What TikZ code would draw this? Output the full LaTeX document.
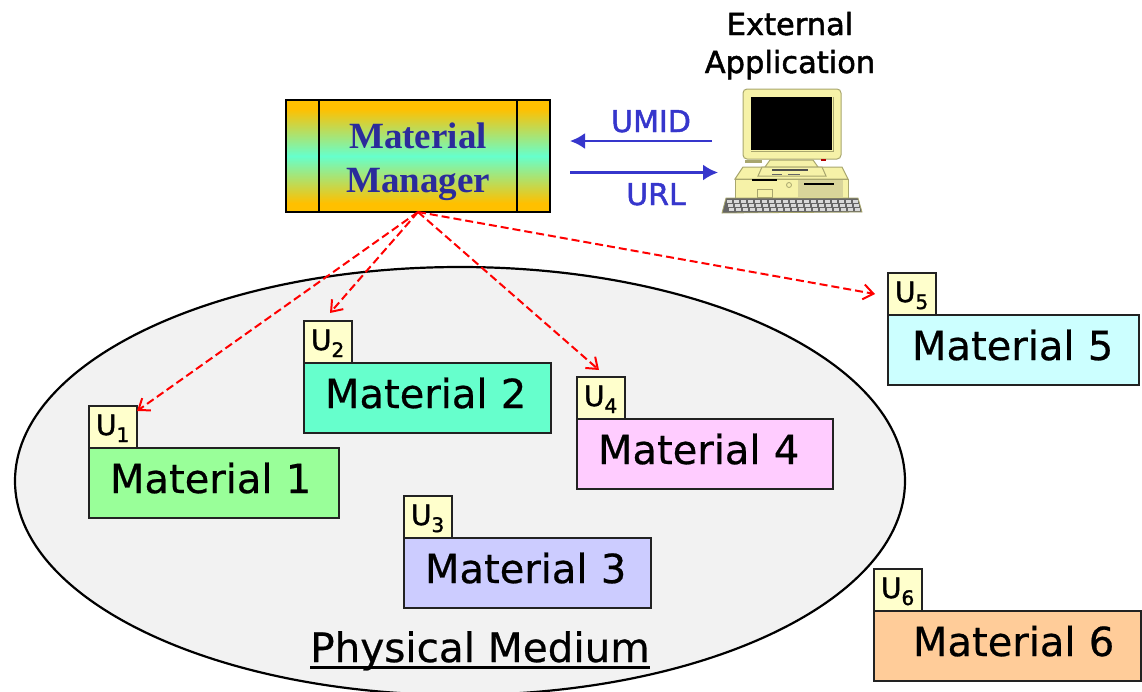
\documentclass[tikz,border=0pt]{standalone}
\usepackage{fontspec}
\setmainfont{DejaVu Sans}[FakeBold=0.6]
\newfontfamily\medfont{DejaVu Sans}[FakeBold=1.6]
\newfontfamily\serifbold{Liberation Serif}
\usetikzlibrary{arrows.meta}
\definecolor{tabfill}{HTML}{FFFFCC}
\definecolor{linegray}{HTML}{222222}
\definecolor{bluearrow}{HTML}{3636CC}
\definecolor{mmtext}{HTML}{2B2B9B}
\definecolor{mmorange}{HTML}{FFC000}
\definecolor{mmgreen}{HTML}{66FFCC}
\definecolor{pcbody}{HTML}{F6F2A8}
\definecolor{pcdark}{HTML}{A8A66E}
\definecolor{pcpanel}{HTML}{D8D49A}
\definecolor{mediumfill}{HTML}{F2F2F2}
\definecolor{matone}{HTML}{99FF99}
\definecolor{mattwo}{HTML}{66FFCC}
\definecolor{matthree}{HTML}{CCCCFF}
\definecolor{matfour}{HTML}{FFCCFF}
\definecolor{matfive}{HTML}{CCFFFF}
\definecolor{matsix}{HTML}{FFCC99}
\pgfdeclareverticalshading{mmshade}{100bp}{color(0bp)=(mmorange); color(29bp)=(mmorange); color(50bp)=(mmgreen); color(71bp)=(mmorange); color(100bp)=(mmorange)}
\tikzset{
  matbox/.style={draw=linegray,line width=1.8pt,anchor=north west,inner sep=0pt,outer sep=0pt,
    text width=#1,minimum width=#1,align=left,text height=45pt,text depth=25pt,font=\fontsize{40}{40}\selectfont},
  tabbox/.style={draw=linegray,fill=tabfill,line width=1.8pt,anchor=north west,inner sep=0pt,outer sep=0pt,
    text width=48pt,minimum width=48pt,align=left,text height=29pt,text depth=13pt,font=\medfont\fontsize{28}{28}\selectfont},
  redarrow/.style={draw=red,line width=2pt,dash pattern=on 8pt off 4pt,
    -{Straight Barb[length=10pt,width=15pt,line width=2pt]}},
  bluearr/.style={draw=bluearrow,line width=2.4pt,-{Latex[length=15pt,width=16pt]}},
  bluelabel/.style={text=bluearrow,anchor=base,inner sep=0pt,font=\medfont\fontsize{30}{30}\selectfont},
  blacklabel/.style={inner sep=0pt,anchor=base,font=\medfont\fontsize{30.5}{30.5}\selectfont},
  mmbox/.style={draw=black,line width=2.2pt,anchor=north west,inner sep=0pt,outer sep=0pt,
    shade,shading=mmshade,shading angle=0,
    text width=264pt,minimum width=264pt,align=center,text height=48pt,text depth=64pt,text=mmtext,
    font=\serifbold\bfseries\fontsize{37}{44}\selectfont},
  pcpart/.style={draw=pcdark,fill=pcbody,line width=1pt}
}
\newcommand{\tablabel}[1]{\hspace*{7pt}U\raisebox{-7pt}{\fontsize{20}{20}\selectfont #1}}
\newcommand{\matlabel}[2]{\hspace*{#1}Material #2}
\begin{document}
\begin{tikzpicture}[x=1pt,y=-1pt]
\useasboundingbox (0,0) rectangle (1142,691);
\clip (0,0) rectangle (1142,691);
% physical medium
\draw[fill=mediumfill,draw=black,line width=2.2pt] (460,481) ellipse [x radius=445,y radius=214];
\node[inner sep=0pt,anchor=base,font=\fontsize{40.5}{40.5}\selectfont] (pm) at (480,662) {Physical Medium};
\draw[line width=2.6pt] ([yshift=-5.5pt]pm.base west) -- ([yshift=-5.5pt]pm.base east);
% material manager
\node[mmbox] (mm) at (286,100) {Material\\Manager};
\draw[line width=1.8pt] (319,100) -- (319,212);
\draw[line width=1.8pt] (517,100) -- (517,212);
% materials and tabs
\node[matbox=250pt,fill=matone] (m1) at (89,448) {\matlabel{21pt}{1}};
\node[tabbox] (u1) at (89,406) {\tablabel{1}};
\node[matbox=247pt,fill=mattwo] (m2) at (304,363) {\matlabel{21pt}{2}};
\node[tabbox] (u2) at (304,321) {\tablabel{2}};
\node[matbox=247pt,fill=matthree] (m3) at (404,538) {\matlabel{21pt}{3}};
\node[tabbox] (u3) at (404,496) {\tablabel{3}};
\node[matbox=256pt,fill=matfour] (m4) at (577,419) {\matlabel{21pt}{4}};
\node[tabbox] (u4) at (577,377) {\tablabel{4}};
\node[matbox=251pt,fill=matfive] (m5) at (888,315) {\matlabel{24pt}{5}};
\node[tabbox] (u5) at (888,273) {\tablabel{5}};
\node[matbox=267pt,fill=matsix] (m6) at (874,611) {\matlabel{39pt}{6}};
\node[tabbox] (u6) at (874,569) {\tablabel{6}};
% dashed references
\coordinate (t1) at (137,411);
\coordinate (t2) at (330,313);
\coordinate (t4) at (599,370);
\coordinate (t5) at (875,294);
\draw[redarrow] (mm.south) -- (t1);
\draw[redarrow] (mm.south) -- (t2);
\draw[redarrow] (mm.south) -- (t4);
\draw[redarrow] (mm.south) -- (t5);
% computer
\draw[pcpart,rounded corners=4pt] (743,89) rectangle (841,159);
\fill[black] (751,97) rectangle (832,150);
\draw[pcdark,line width=1pt] (833,97) -- (833,151) -- (751,151);
\draw[pcpart] (743,167) -- (842,167) -- (848,179) -- (735,179) -- cycle;
\draw[pcpart] (770,160) -- (813,160) -- (818,167) -- (765,167) -- cycle;
\draw[pcpart] (762,167) -- (822,167) -- (826,176) -- (758,176) -- cycle;
\draw[black!70,line width=1.2pt] (772,170) -- (808,170);
\draw[black!60,line width=1pt] (772,174) -- (782,174) (788,174) -- (800,174);
\draw[pcpart] (735,179) rectangle (848,198);
\fill[pcpanel] (798,180) rectangle (843,197);
\draw[black,line width=1.6pt] (752,180) -- (777,180);
\draw[black,line width=1.6pt] (804,184) -- (834,184);
\draw[pcdark,fill=pcbody,line width=.8pt] (789,185) circle [radius=2.5];
\draw[pcdark,line width=.8pt] (757,189) rectangle (772,197);
\fill[pcdark] (745,160) rectangle (762,163);
\fill[red!70!black] (821,159) rectangle (826,161);
\draw[draw=pcdark,fill=black!60,line width=.8pt] (726,198) -- (858,198) -- (862,212) -- (722,213) -- cycle;
\foreach \r in {0,1,2}{
  \foreach \c in {0,...,18}{
    \fill[white!85!black] ({727+\c*7+\r},{200+\r*4}) rectangle ({732+\c*7+\r},{202.5+\r*4});
  }
}
% external application
\node[blacklabel] (ext) at (790,35) {External};
\node[blacklabel] (app) at (790,73) {Application};
\node[bluelabel] (umid) at (651,132) {UMID};
\node[bluelabel] (url) at (656,205) {URL};
\coordinate (umidfrom) at (712,141);
\coordinate (umidto) at (570,141);
\coordinate (urlfrom) at (570,172.5);
\coordinate (urlto) at (718,172.5);
\draw[bluearr] (umidfrom) -- (umidto);
\draw[bluearr] (urlfrom) -- (urlto);
\end{tikzpicture}
\end{document}
